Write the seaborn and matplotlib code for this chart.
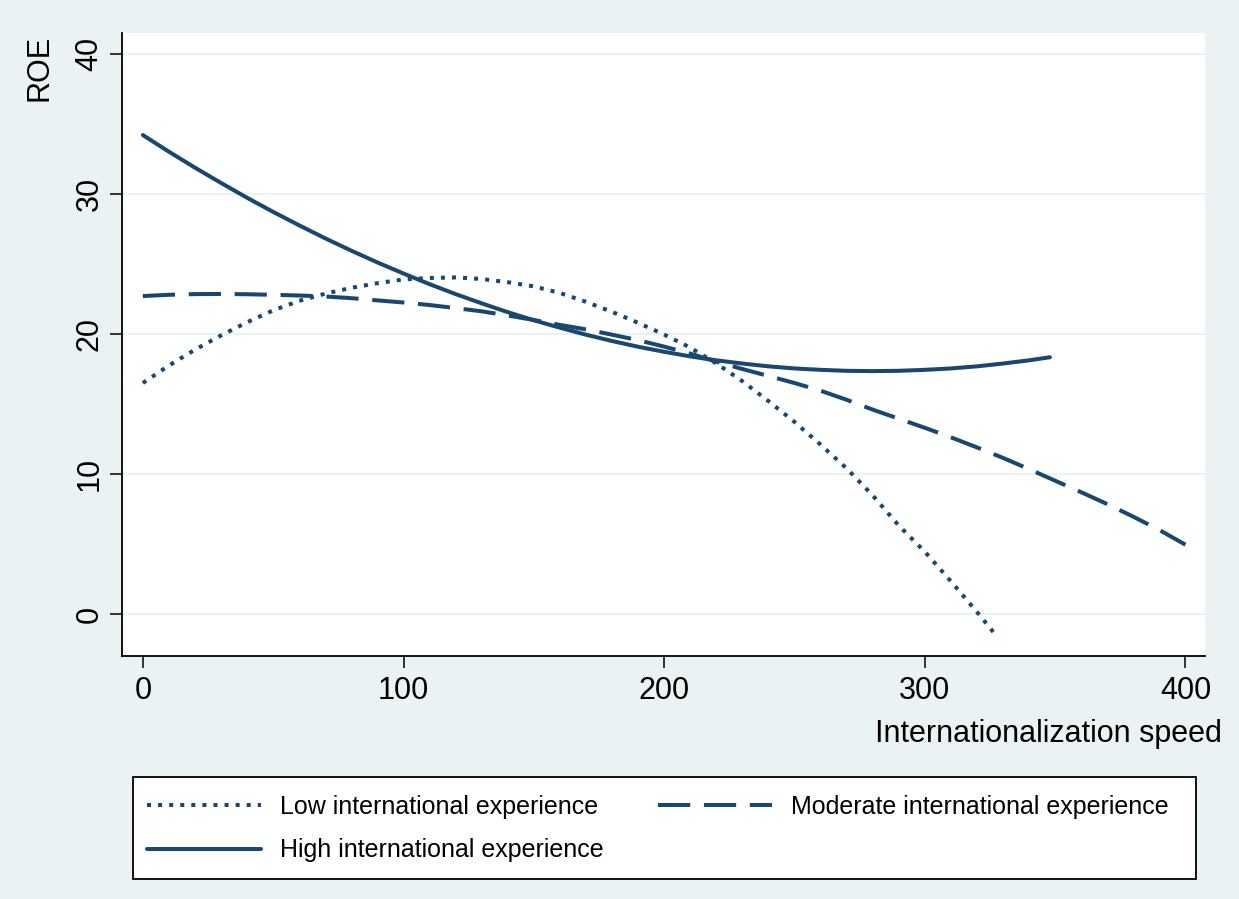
import numpy as np
import pandas as pd
import matplotlib
matplotlib.use("Agg")
import matplotlib.pyplot as plt
from matplotlib.patches import Rectangle
from matplotlib.lines import Line2D
import seaborn as sns

# ---------------- data ----------------
low_x = [0, 10, 20, 30, 40, 50, 60, 70, 80, 90, 100, 110, 120, 130, 140, 150, 160,
         170, 180, 190, 200, 210, 220, 230, 240, 250, 260, 270, 280, 290, 300, 310,
         320, 327]
low_y = [16.5, 17.75, 18.88, 19.9, 20.84, 21.69, 22.37, 22.88, 23.3, 23.63, 23.9,
         24.0, 24.04, 23.93, 23.7, 23.4, 22.93, 22.3, 21.58, 20.8, 19.96, 19.03,
         17.9, 16.63, 15.21, 13.72, 12.1, 10.4, 8.47, 6.32, 4.45, 2.34, 0.15, -1.45]

mod_x = [0, 10, 20, 30, 40, 50, 60, 70, 80, 90, 100, 110, 120, 130, 140, 150, 160,
         170, 180, 190, 200, 210, 220, 230, 240, 250, 260, 270, 280, 290, 300, 310,
         320, 330, 340, 350, 360, 370, 380, 390, 400]
mod_y = [22.71, 22.8, 22.85, 22.86, 22.84, 22.8, 22.75, 22.68, 22.56, 22.4, 22.25,
         22.07, 21.85, 21.62, 21.32, 21.0, 20.65, 20.33, 19.95, 19.56, 19.1, 18.6,
         18.03, 17.5, 17.0, 16.5, 15.95, 15.3, 14.6, 13.95, 13.3, 12.62, 11.9, 11.15,
         10.35, 9.52, 8.7, 7.85, 6.95, 6.0, 4.95]

high_x = [0, 10, 20, 30, 40, 50, 60, 70, 80, 90, 100, 110, 120, 130, 140, 150, 160,
          170, 180, 190, 200, 210, 220, 230, 240, 250, 260, 270, 280, 290, 300, 310,
          320, 330, 340, 348]
high_y = [34.21, 33.02, 31.88, 30.79, 29.73, 28.72, 27.76, 26.83, 25.95, 25.11, 24.32,
          23.56, 22.85, 22.19, 21.56, 20.98, 20.45, 19.95, 19.5, 19.09, 18.73, 18.4,
          18.12, 17.89, 17.69, 17.54, 17.44, 17.37, 17.35, 17.37, 17.44, 17.54, 17.69,
          17.89, 18.12, 18.34]

labels = ["Low international experience",
          "Moderate international experience",
          "High international experience"]
x_ticks = [0, 100, 200, 300, 400]
y_ticks = [0, 10, 20, 30, 40]
x_title = "Internationalization speed"
y_title = "ROE"

df = pd.concat([
    pd.DataFrame({"speed": low_x, "roe": low_y, "group": labels[0]}),
    pd.DataFrame({"speed": mod_x, "roe": mod_y, "group": labels[1]}),
    pd.DataFrame({"speed": high_x, "roe": high_y, "group": labels[2]}),
], ignore_index=True)

# ---------------- style ----------------
BG = "#EAF2F3"
NAVY = "#1A476F"
sns.set_style("white")
plt.rcParams["font.family"] = ["Liberation Sans", "DejaVu Sans"]
plt.rcParams["text.color"] = "black"
plt.rcParams["axes.labelcolor"] = "black"
plt.rcParams["xtick.color"] = "black"
plt.rcParams["ytick.color"] = "black"

fig = plt.figure(figsize=(12.39, 8.99), dpi=100, facecolor=BG)
W, H = 1239, 899
ax = fig.add_axes([122 / W, 1 - 656 / H, (1205 - 122) / W, (656 - 33) / H])
ax.set_facecolor("white")

LW = 2.9
dashes = {labels[0]: (1.0, 1.75), labels[1]: (8.0, 3.4), labels[2]: ""}
sns.lineplot(data=df, x="speed", y="roe", hue="group", style="group",
             hue_order=labels, style_order=labels,
             palette=[NAVY] * 3, dashes=dashes, linewidth=LW,
             errorbar=None, sort=True, legend=False, ax=ax, zorder=3)

ax.set_xlim(-8.0, 407.5)
ax.set_ylim(-3.0, 41.5)
ax.set_xticks(x_ticks)
ax.set_yticks(y_ticks)
ax.set_xticklabels([str(v) for v in x_ticks])
ax.set_yticklabels([str(v) for v in y_ticks])

ax.yaxis.grid(True, color=BG, linewidth=1.6, zorder=0)
ax.xaxis.grid(False)
ax.set_axisbelow(True)

for s in ["top", "right"]:
    ax.spines[s].set_visible(False)
for s in ["left", "bottom"]:
    ax.spines[s].set_color("black")
    ax.spines[s].set_linewidth(1.3)

ax.tick_params(axis="both", which="major", direction="out", length=8.6,
               width=1.1, color="black", labelsize=22, labelcolor="black",
               bottom=True, left=True, top=False, right=False)
ax.tick_params(axis="x", pad=6)
ax.tick_params(axis="y", pad=4, labelrotation=90)
for lab in ax.get_yticklabels():
    lab.set_va("center")

# axis titles
ax.set_xlabel(x_title, fontsize=22, ha="right", va="baseline", color="black")
ax.xaxis.set_label_coords(1222 / W, 1 - 742 / H, transform=fig.transFigure)
ax.set_ylabel(y_title, fontsize=22, rotation=90, rotation_mode="anchor",
              ha="right", va="baseline", color="black")
ax.yaxis.set_label_coords(47 / W, 1 - 35 / H, transform=fig.transFigure)

# legend box
fig.patches.append(Rectangle((133 / W, 1 - 879 / H), (1196 - 133) / W, (879 - 777) / H,
                             transform=fig.transFigure, facecolor="white",
                             edgecolor="black", linewidth=1.3, zorder=0))
lines = ax.get_lines()
handles = []
for ln in lines[:3]:
    h = Line2D([], [], color=NAVY, linewidth=LW)
    h.update_from(ln)
    handles.append(h)
order = [0, 2, 1]
leg = fig.legend([handles[i] for i in order], [labels[i] for i in order],
                 ncol=2, frameon=False, fontsize=18,
                 loc="upper left", bbox_to_anchor=(147 / W, 1 - 795 / H),
                 borderpad=0, borderaxespad=0, handlelength=4.56,
                 handletextpad=0.76, columnspacing=2.16, labelspacing=0.78)
for t in leg.get_texts():
    t.set_color("black")

fig.savefig("out.png", dpi=100, facecolor=BG)
